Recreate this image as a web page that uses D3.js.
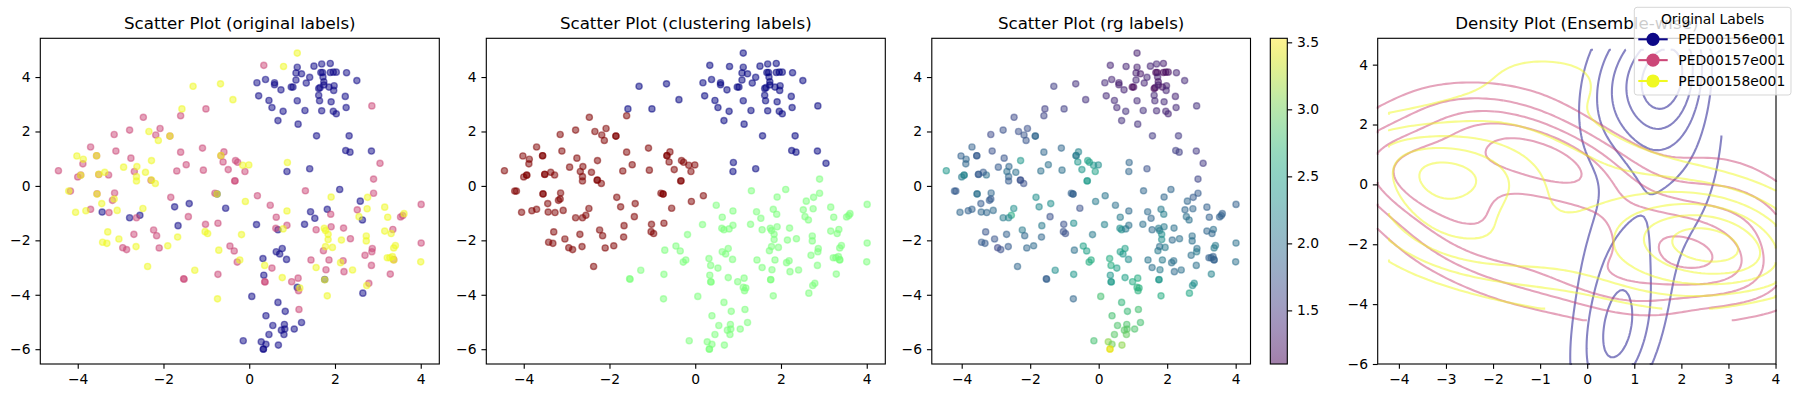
<!DOCTYPE html>
<html><head><meta charset="utf-8">
<script src="https://cdn.jsdelivr.net/npm/d3@7"></script>
<style>body{margin:0;background:#fff} svg text{font-family:"DejaVu Sans",sans-serif;fill:#000}</style>
</head><body><svg id="c" width="1798" height="398"></svg>
<script>
// ---------------- DATA ----------------
const labels = ["PED00156e001", "PED00157e001", "PED00158e001"];
const titles = ["Scatter Plot (original labels)", "Scatter Plot (clustering labels)", "Scatter Plot (rg labels)", "Density Plot (Ensemble-wise)"];
// rows: [x, y, cluster (0 top, 1 bottom-right, 2 left), rg]
const ped156 = [
[1.12,4.36,0,1.30],[1.51,4.40,0,1.35],[1.69,4.48,0,1.35],[1.89,4.50,0,1.30],[1.09,4.15,0,1.30],
[1.22,4.12,0,1.25],[1.67,4.17,0,1.12],[1.71,4.17,0,1.15],[1.89,4.17,0,1.12],[1.96,4.18,0,1.15],
[2.03,4.18,0,1.18],[2.27,4.16,0,1.35],[2.51,3.87,0,1.40],[0.38,3.91,0,1.35],[0.18,3.79,0,1.40],
[0.59,3.79,0,1.30],[0.59,3.72,0,1.30],[0.74,3.53,0,1.35],[0.98,3.63,0,1.12],[1.02,3.63,0,1.15],
[1.09,3.89,0,1.35],[1.33,3.78,0,1.35],[1.41,3.99,0,1.35],[1.72,4.00,0,1.30],[1.74,3.83,0,1.20],
[1.62,3.58,0,1.10],[1.65,3.61,0,1.15],[1.74,3.71,0,1.30],[1.86,3.63,0,1.20],[1.98,3.68,0,1.30],
[1.97,3.51,0,1.35],[0.22,3.31,0,1.40],[0.46,3.14,0,1.40],[0.53,2.88,0,1.40],[0.79,2.74,0,1.45],
[0.67,2.40,0,1.45],[1.12,3.13,0,1.40],[1.30,2.77,0,1.45],[1.14,2.27,0,1.45],[1.62,3.33,0,1.40],
[1.64,3.13,0,1.40],[1.69,2.76,0,1.40],[1.91,3.09,0,1.40],[1.96,2.74,0,1.35],[2.03,2.65,0,1.35],
[2.24,3.29,0,1.35],[2.26,2.88,0,1.40],[1.57,1.84,0,1.50],[2.33,1.84,0,1.50],[2.25,1.30,0,1.55],
[2.35,1.24,0,1.55],[2.85,1.28,0,1.50],[0.88,0.53,0,1.90],[1.41,0.63,0,1.70],
[-3.43,-0.96,2,1.90],[-2.79,-1.17,2,2.10],[-2.55,-1.08,2,2.60],[-1.66,-1.46,2,2.10],[-1.74,-0.77,2,2.25],
[-1.40,-0.65,2,2.30],[-0.55,-0.82,2,1.70],[-0.75,-0.30,2,1.85],
[0.17,-1.42,1,2.20],[0.67,-1.61,1,2.30],[0.63,-2.42,1,2.50],[0.71,-2.50,1,2.40],[0.77,-2.30,1,2.50],
[0.87,-2.70,1,2.30],[0.32,-2.67,1,2.60],[0.34,-3.28,1,2.40],[1.12,-3.73,1,2.65],[0.06,-4.06,1,2.80],
[0.67,-4.28,1,2.70],[0.84,-4.61,1,2.75],[0.39,-4.77,1,2.80],[1.22,-5.02,1,2.80],[0.55,-5.13,1,2.85],
[0.82,-5.09,1,2.85],[0.46,-5.46,1,2.90],[0.75,-5.30,1,2.90],[0.83,-5.26,1,2.90],[0.81,-5.46,1,2.95],
[1.05,-5.26,1,2.85],[-0.14,-5.69,1,2.80],[0.28,-5.73,1,3.10],[0.39,-5.82,1,3.00],[0.33,-6.00,1,3.53],
[0.33,-5.99,1,3.40],[0.68,-5.85,1,3.10],[2.11,-0.13,1,1.90],[2.59,-0.56,1,1.90],[1.43,-0.95,1,1.95],
[1.53,-1.19,1,1.90],[1.82,-0.86,1,2.10],[2.64,-1.25,1,2.00],[1.29,-1.41,1,2.00],[1.76,-3.44,1,2.40],
[2.65,-3.94,1,2.55]
];
const ped157 = [
[0.34,4.43,0,1.35],[2.86,2.94,0,1.45],[3.05,0.83,0,1.50],[2.90,0.25,1,1.60],[-1.01,2.83,0,1.55],
[-1.60,2.58,2,1.60],[-2.47,2.52,2,1.65],[-2.79,2.05,2,1.70],[-2.08,2.11,2,1.70],[-2.18,1.87,2,1.75],
[-1.85,1.83,2,1.90],[-3.15,1.89,2,1.65],[-3.70,1.43,2,1.85],[-3.11,1.28,2,1.70],[-3.56,1.11,2,1.80],
[-3.88,0.81,2,1.90],[-2.76,1.02,2,1.75],[-2.68,0.53,2,2.00],[-2.29,0.21,2,1.70],[-4.45,0.56,2,2.40],
[-4.00,0.33,2,2.10],[-3.93,0.40,2,2.20],[-3.51,0.42,2,1.80],[-3.28,0.40,2,2.00],[-4.17,-0.19,2,1.80],
[-3.14,-0.26,2,1.90],[-3.55,-0.29,2,2.00],[-3.19,-0.53,2,1.80],[-3.27,-0.98,2,1.90],[-3.70,-0.86,2,1.85],
[-2.63,-1.17,2,2.20],[-2.69,-1.78,2,1.85],[-2.95,-2.27,2,1.60],[-2.86,-2.34,2,1.70],[-2.23,-1.62,2,2.10],
[-2.16,-1.83,2,1.90],[-2.10,-2.28,2,1.90],[-1.83,-0.42,2,2.30],[-1.42,-1.13,2,1.70],[-1.53,-3.41,1,1.80],
[-1.52,-3.43,1,1.85],[-1.60,1.24,2,1.90],[-1.47,0.78,2,2.00],[-1.69,0.55,2,2.00],[-1.09,1.39,2,1.90],
[-1.07,0.58,2,2.00],[-0.66,1.11,2,2.10],[-0.59,1.25,2,2.20],[-0.61,0.88,2,2.40],[-0.49,0.60,2,2.40],
[-0.32,0.93,2,2.50],[-0.27,0.87,2,2.50],[-0.10,0.53,2,2.50],[-0.34,0.18,2,2.40],[-0.33,0.19,2,2.45],
[-0.80,-0.27,2,1.85],[-1.02,-1.41,2,1.70],[-0.73,-1.37,2,2.30],[-0.45,-2.21,1,2.50],[-0.35,-2.39,1,2.50],
[-0.28,-2.80,1,2.60],[-0.73,-3.25,1,2.40],[0.19,-0.36,2,2.05],[0.49,-0.71,1,2.00],[0.63,-1.15,1,2.10],
[0.62,-1.56,1,2.30],[0.88,-1.45,1,2.00],[0.53,-3.02,1,2.50],[0.36,-3.52,1,2.40],[0.37,-3.53,1,2.45],
[0.99,-3.52,1,2.60],[1.14,-3.39,1,2.60],[1.15,-3.85,1,2.65],[1.16,-4.54,1,2.80],[1.31,-0.18,1,1.90],
[2.52,-0.88,1,1.90],[2.90,-0.27,1,1.80],[1.90,-1.04,1,2.15],[3.53,-1.14,1,1.85],[3.58,-1.09,1,1.85],
[4.01,-0.68,1,1.85],[1.56,-1.61,1,1.95],[1.91,-1.50,1,2.10],[2.20,-1.55,1,2.00],[2.36,-1.94,1,2.00],
[3.35,-1.60,1,2.00],[2.87,-2.30,1,2.00],[2.86,-2.42,1,2.10],[2.70,-2.55,1,2.00],[3.37,-2.71,1,1.85],
[3.29,-3.24,1,2.20],[4.01,-2.10,1,2.00],[1.73,-2.38,1,2.10],[1.86,-2.72,1,2.10],[1.44,-2.72,1,2.05],
[1.79,-3.08,1,2.10],[2.19,-2.75,1,2.00],[2.21,-3.15,1,1.95],[2.85,-2.92,1,2.00],[2.79,-3.58,1,2.30]
];
const ped158 = [
[1.12,4.88,0,1.30],[0.80,4.39,0,1.35],[-1.31,3.66,0,1.55],[-0.67,3.75,0,1.45],[-0.38,3.17,0,1.45],
[-1.57,2.83,0,1.55],[0.89,0.86,0,1.90],[-2.34,2.00,2,1.70],[-2.12,1.67,2,1.75],[-1.85,1.83,2,1.90],
[-3.56,1.11,2,1.80],[-4.02,1.10,2,1.85],[-3.87,0.98,2,1.90],[-2.28,0.93,2,2.40],[-2.93,0.69,2,1.80],
[-2.62,0.71,2,1.90],[-2.42,0.50,2,2.00],[-2.63,0.34,2,1.90],[-2.63,0.18,2,1.80],[-2.28,0.22,2,1.70],
[-2.19,0.09,2,1.70],[-3.93,0.39,2,2.20],[-3.51,0.43,2,1.80],[-3.37,0.50,2,1.80],[-4.21,-0.19,2,1.80],
[-3.55,-0.30,2,2.00],[-3.15,-0.48,2,1.80],[-3.44,-0.65,2,1.80],[-4.05,-0.97,2,1.90],[-3.81,-0.91,2,1.85],
[-3.08,-0.90,2,1.95],[-2.48,-0.83,2,2.30],[-3.30,-1.69,2,1.75],[-3.42,-2.07,2,1.80],[-3.32,-2.11,2,1.80],
[-3.04,-1.95,2,1.75],[-2.64,-2.23,2,1.80],[-1.90,-2.20,2,1.95],[-1.67,-1.88,2,1.90],[-2.37,-2.96,2,1.90],
[-1.27,-3.10,1,2.30],[-0.66,1.12,2,2.10],[-0.15,0.76,2,2.40],[-0.01,0.77,2,2.30],[-0.75,-0.30,2,1.85],
[-0.09,-0.57,2,2.10],[-1.03,-1.68,2,1.70],[-0.97,-1.75,2,1.70],[-0.18,-1.79,1,2.10],[-0.71,-2.36,1,2.00],
[-0.22,-2.72,1,2.60],[-0.74,-4.15,1,1.90],[0.79,-1.58,1,2.10],[0.88,-0.92,1,1.95],[0.36,-2.92,1,2.60],
[0.77,-3.37,1,2.50],[1.18,-3.75,1,2.65],[1.91,-0.41,1,1.90],[2.76,-0.42,1,1.80],[2.56,-1.13,1,2.00],
[2.75,-0.84,1,1.90],[3.16,-0.78,1,1.85],[3.23,-1.15,1,1.85],[3.61,-1.02,1,1.85],[1.75,-1.56,1,2.10],
[1.78,-1.64,1,2.10],[1.84,-1.78,1,2.30],[1.84,-1.97,1,2.30],[2.15,-1.99,1,1.95],[2.73,-1.84,1,2.00],
[2.73,-2.02,1,2.00],[3.16,-1.66,1,1.90],[3.31,-1.75,1,1.90],[3.41,-2.19,1,2.10],[3.37,-2.28,1,2.10],
[3.22,-2.64,1,1.85],[3.28,-2.64,1,1.85],[3.34,-2.60,1,1.85],[3.37,-2.72,1,1.85],[4.00,-2.79,1,2.00],
[1.78,-2.23,1,2.00],[1.94,-2.26,1,2.10],[1.56,-3.00,1,2.00],[1.76,-3.45,1,2.40],[1.82,-4.04,1,2.60],
[2.13,-2.82,1,2.00],[2.41,-3.09,1,2.00],[2.74,-3.66,1,2.30]
];
const scatterXTicks = [-4, -2, 0, 2, 4];
const scatterYTicks = [-6, -4, -2, 0, 2, 4];
const densityXTicks = [-4, -3, -2, -1, 0, 1, 2, 3, 4];
const densityYTicks = [-6, -4, -2, 0, 2, 4];
const colorbarTicks = [1.5, 2.0, 2.5, 3.0, 3.5];

// ---------------- STYLE / LAYOUT ----------------
const labelColors = ["#0d0887", "#cc4778", "#f0f921"];   // plasma 0, .5, 1
const clusterColors = ["#00007f", "#7bff7b", "#7f0000"]; // jet 0, .5, 1
const groups = [ped156, ped157, ped158];
const pts = [];
groups.forEach((g, li) => g.forEach(r => pts.push({x: r[0], y: r[1], lab: li, clu: r[2], rg: r[3]})));

const svg = d3.select("#c");
const TOP = 38.3, BOT = 364;
const PT = 100/72;
const fontTick = 10*PT, fontTitle = 12*PT;
const panels = [
  {x0: 40.3, x1: 439.3},
  {x0: 486.3, x1: 885.3},
  {x0: 931.8, x1: 1250.5},
  {x0: 1377.7, x1: 1776}
];

const xExt = d3.extent(pts, d => d.x), yExt = d3.extent(pts, d => d.y);
const mx = (xExt[1]-xExt[0])*0.05, my = (yExt[1]-yExt[0])*0.05;
const fmt = d3.format("");

function axes(p, xs, ys, xt, yt, title) {
  const g = svg.append("g");
  const ax = d3.axisBottom(xs).tickValues(xt).tickFormat(fmt).tickSizeInner(3.5*PT).tickSizeOuter(0).tickPadding(3.5*PT);
  const ay = d3.axisLeft(ys).tickValues(yt).tickFormat(fmt).tickSizeInner(3.5*PT).tickSizeOuter(0).tickPadding(3.5*PT);
  const gx = g.append("g").attr("transform", `translate(0,${BOT})`).call(ax);
  const gy = g.append("g").attr("transform", `translate(${p.x0},0)`).call(ay);
  [gx, gy].forEach(a => {
    a.select(".domain").remove();
    a.selectAll("line").attr("stroke", "#000").attr("stroke-width", 0.8*PT);
    a.selectAll("text").attr("font-size", fontTick).attr("font-family", "DejaVu Sans").attr("fill", "#000");
  });
  g.append("rect").attr("x", p.x0).attr("y", TOP).attr("width", p.x1-p.x0).attr("height", BOT-TOP)
    .attr("fill", "none").attr("stroke", "#000").attr("stroke-width", 0.8*PT);
  svg.append("text").attr("x", (p.x0+p.x1)/2).attr("y", TOP - 6*PT - 0.5).attr("text-anchor", "middle")
    .attr("font-size", fontTitle).text(title);
}

const rgExt = d3.extent(pts, d => d.rg);
const rgNorm = d3.scaleLinear().domain(rgExt).range([0, 1]);
const colorFns = [
  d => labelColors[d.lab],
  d => clusterColors[d.clu],
  d => d3.interpolateViridis(rgNorm(d.rg))
];

for (let k = 0; k < 3; k++) {
  const p = panels[k];
  const xs = d3.scaleLinear().domain([xExt[0]-mx, xExt[1]+mx]).range([p.x0, p.x1]);
  const ys = d3.scaleLinear().domain([yExt[0]-my, yExt[1]+my]).range([BOT, TOP]);
  svg.append("g").selectAll("circle").data(pts).join("circle")
    .attr("cx", d => xs(d.x)).attr("cy", d => ys(d.y)).attr("r", 3.1)
    .attr("fill", colorFns[k]).attr("fill-opacity", 0.5)
    .attr("stroke", colorFns[k]).attr("stroke-opacity", 0.5).attr("stroke-width", 1.0*PT);
  axes(p, xs, ys, scatterXTicks, scatterYTicks, titles[k]);
}

// ---- colorbar ----
(function () {
  const cx0 = 1270.3, cx1 = 1287.3;
  const cs = d3.scaleLinear().domain(rgExt).range([BOT, TOP]);
  const defs = svg.append("defs");
  const lg = defs.append("linearGradient").attr("id", "vir").attr("x1", 0).attr("y1", 1).attr("x2", 0).attr("y2", 0);
  d3.range(0, 1.0001, 0.02).forEach(t => lg.append("stop").attr("offset", t).attr("stop-color", d3.interpolateViridis(t)));
  svg.append("rect").attr("x", cx0).attr("y", TOP).attr("width", cx1-cx0).attr("height", BOT-TOP)
    .attr("fill", "url(#vir)").attr("opacity", 0.5);
  svg.append("rect").attr("x", cx0).attr("y", TOP).attr("width", cx1-cx0).attr("height", BOT-TOP)
    .attr("fill", "none").attr("stroke", "#000").attr("stroke-width", 0.8*PT);
  const ac = d3.axisRight(cs).tickValues(colorbarTicks).tickFormat(d3.format(".1f"))
    .tickSizeInner(3.5*PT).tickSizeOuter(0).tickPadding(3.5*PT);
  const g = svg.append("g").attr("transform", `translate(${cx1},0)`).call(ac);
  g.select(".domain").remove();
  g.selectAll("line").attr("stroke", "#000").attr("stroke-width", 0.8*PT);
  g.selectAll("text").attr("font-size", fontTick).attr("font-family", "DejaVu Sans").attr("fill", "#000");
})();

// ---- density panel ----
(function () {
  const p = panels[3];
  const xs = d3.scaleLinear().domain(xExt).range([p.x0, p.x1]);
  const ys = d3.scaleLinear().domain(yExt).range([BOT, TOP]);
  const n = 100;
  const line = d3.line().x(d => xs(d[0])).y(d => ys(d[1]));
  const layer = svg.append("g");

  function maxNLevels(zmin, zmax, nbins) {
    const raw = (zmax - zmin) / nbins;
    const mag = Math.pow(10, Math.floor(Math.log10(raw)));
    for (const s of [1, 2, 2.5, 5, 10, 20]) {
      const st = s * mag;
      const lo = Math.floor(zmin / st + 1e-9), hi = Math.ceil(zmax / st - 1e-9);
      if (hi - lo <= nbins) {
        const out = [];
        for (let i = lo; i <= hi; i++) { const v = i * st; if (v > zmin && v < zmax) out.push(v); }
        return out;
      }
    }
    return [];
  }

  groups.forEach((grp, li) => {
    const N = grp.length;
    const gx = grp.map(r => r[0]), gy = grp.map(r => r[1]);
    const mxg = d3.mean(gx), myg = d3.mean(gy);
    let sxx = 0, syy = 0, sxy = 0;
    for (let i = 0; i < N; i++) { const dx = gx[i]-mxg, dy = gy[i]-myg; sxx += dx*dx; syy += dy*dy; sxy += dx*dy; }
    sxx /= (N-1); syy /= (N-1); sxy /= (N-1);
    const f2 = Math.pow(N, -1/3);
    const a = sxx*f2, b = sxy*f2, c = syy*f2;
    const det = a*c - b*b;
    const ia = c/det, ib = -b/det, ic = a/det;
    const norm = 1/(2*Math.PI*Math.sqrt(det)*N);
    const [x0, x1] = d3.extent(gx), [y0, y1] = d3.extent(gy);
    const stx = (x1-x0)/(n-1), sty = (y1-y0)/(n-1);
    const vals = new Float64Array(n*n);
    for (let j = 0; j < n; j++) {
      const yy = y0 + j*sty;
      for (let i = 0; i < n; i++) {
        const xx = x0 + i*stx;
        let s = 0;
        for (let q = 0; q < N; q++) {
          const dx = xx-gx[q], dy = yy-gy[q];
          s += Math.exp(-0.5*(ia*dx*dx + 2*ib*dx*dy + ic*dy*dy));
        }
        vals[j*n+i] = s*norm;
      }
    }
    const levels = maxNLevels(d3.min(vals), d3.max(vals), 8);
    const cont = d3.contours().size([n, n]).thresholds(levels)(vals);
    const toData = pt => [Math.max(x0, Math.min(x1, x0 + (pt[0]-0.5)*stx)), Math.max(y0, Math.min(y1, y0 + (pt[1]-0.5)*sty))];
    const sameEdge = (u, v) => (u[0] <= 0 && v[0] <= 0) || (u[0] >= n && v[0] >= n) || (u[1] <= 0 && v[1] <= 0) || (u[1] >= n && v[1] >= n);
    cont.forEach(ml => ml.coordinates.forEach(poly => poly.forEach(ring => {
      let cur = [];
      const segs = [];
      for (let k = 0; k < ring.length-1; k++) {
        const u = ring[k], v = ring[k+1];
        if (sameEdge(u, v)) { if (cur.length > 1) segs.push(cur); cur = []; continue; }
        if (!cur.length) cur.push(u);
        cur.push(v);
      }
      if (cur.length > 1) segs.push(cur);
      segs.forEach(sg => layer.append("path").attr("d", line(sg.map(toData)))
        .attr("fill", "none").attr("stroke", labelColors[li]).attr("stroke-opacity", 0.5)
        .attr("stroke-width", 1.5*PT).attr("stroke-linejoin", "round"));
    })));
  });
  axes(p, xs, ys, densityXTicks, densityYTicks, titles[3]);

  // legend
  const L = svg.append("g");
  L.append("rect").attr("x", 1634.3).attr("y", 7.3).attr("width", 156.7).attr("height", 87.7).attr("rx", 2.8)
    .attr("fill", "#fff").attr("fill-opacity", 0.8).attr("stroke", "#cccccc").attr("stroke-opacity", 0.8).attr("stroke-width", 1);
  L.append("text").attr("x", 1712.6).attr("y", 19.3).attr("dy", "0.35em").attr("text-anchor", "middle")
    .attr("font-size", fontTick).text("Original Labels");
  labels.forEach((lab, i) => {
    const cy = 39.3 + i*20.85;
    L.append("line").attr("x1", 1638.3).attr("x2", 1667.7).attr("y1", cy).attr("y2", cy)
      .attr("stroke", labelColors[i]).attr("stroke-width", 1.5*PT);
    L.append("circle").attr("cx", 1653).attr("cy", cy).attr("r", 6.6).attr("fill", labelColors[i]);
    L.append("text").attr("x", 1678.3).attr("y", cy).attr("dy", "0.35em").attr("font-size", fontTick).text(lab);
  });
})();
</script></body></html>
